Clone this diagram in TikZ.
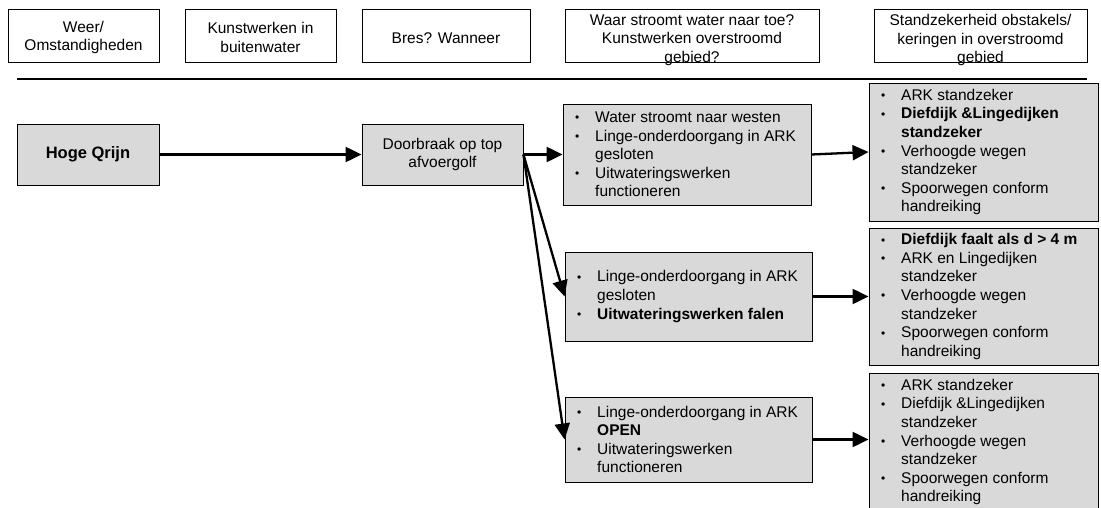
\documentclass[tikz,border=0pt]{standalone}
\usepackage{fontspec}
\setmainfont{Liberation Sans}
\usetikzlibrary{arrows.meta}
\definecolor{boxgray}{HTML}{D9D9D9}
\newcommand{\bu}{\makebox[20pt][l]{\raisebox{0.6pt}{\fontsize{12}{12}\selectfont\textbullet}}}
\newcommand{\bc}{\hspace*{20pt}}
\begin{document}
\begin{tikzpicture}[x=1pt,y=-1pt,
  hdr/.style={draw=black, line width=0.9pt, fill=white, inner sep=0pt},
  gbox/.style={draw=black, line width=0.9pt, fill=boxgray, inner sep=0pt},
  txt/.style={inner sep=0pt, align=center, font=\fontsize{15.5}{18.6}\selectfont},
  btxt/.style={inner sep=0pt, align=left, anchor=west, font=\fontsize{15.5}{18.6}\selectfont},
  arr/.style={line width=2.3pt, -{Triangle[length=16pt,width=15pt]}}]
\useasboundingbox (0,0) rectangle (1101,508);
\clip (0,0) rectangle (1101,508);
% header
\node[hdr, minimum width=151pt, minimum height=53pt] (h1) at (83.5,35.5) {};
\node[hdr, minimum width=151pt, minimum height=53pt] (h2) at (260.5,35.5) {};
\node[hdr, minimum width=168pt, minimum height=53pt] (h3) at (446,35.5) {};
\node[hdr, minimum width=254pt, minimum height=53pt] (h4) at (692,35.5) {};
\node[hdr, minimum width=213pt, minimum height=53pt] (h5) at (980.5,35.5) {};
\node[txt] (h1t) at (83.5,37.5) {Weer/\\Omstandigheden};
\node[txt] (h2t) at (260.5,37.5) {Kunstwerken in\\buitenwater};
\node[txt] (h3t) at (446,38.5) {Bres? Wanneer};
\node[txt] (h4t) at (692,40) {Waar stroomt water naar toe?\\Kunstwerken overstroomd\\gebied?};
\node[txt] (h5t) at (980.5,40) {Standzekerheid obstakels/\\keringen in overstroomd\\gebied};
\coordinate (l1) at (17,79);
\coordinate (l2) at (1087,79);
\draw[line width=1.3pt] (l1) -- (l2);
% main boxes
\node[gbox, minimum width=142pt, minimum height=61pt, font=\bfseries\fontsize{16.5}{19}\selectfont] (Q) at (88,154.5) {Hoge Qrijn};
\node[gbox, minimum width=161pt, minimum height=61pt] (D) at (442.5,154.5) {};
\node[txt] (Dt) at (442.5,154.5) {Doorbraak op top\\afvoergolf};
\node[gbox, minimum width=248pt, minimum height=101pt] (A) at (687,154.5) {};
\node[gbox, minimum width=247pt, minimum height=89pt] (B) at (688.5,296.5) {};
\node[gbox, minimum width=247pt, minimum height=85pt] (C) at (688.5,439.5) {};
\node[gbox, minimum width=229pt, minimum height=138pt] (R1) at (983.5,152) {};
\node[gbox, minimum width=229pt, minimum height=137pt] (R2) at (983.5,296.5) {};
\node[gbox, minimum width=229pt, minimum height=138pt] (R3) at (983.5,442) {};
% texts
\node[btxt] (At) at (575,154.5) {\bu Water stroomt naar westen\\\bu Linge-onderdoorgang in ARK\\\bc gesloten\\\bu Uitwateringswerken\\\bc functioneren};
\node[btxt] (Bt) at (577,296.5) {\bu Linge-onderdoorgang in ARK\\\bc gesloten\\\bu \textbf{Uitwateringswerken falen}};
\node[btxt] (Ct) at (577,439.5) {\bu Linge-onderdoorgang in ARK\\\bc \textbf{OPEN}\\\bu Uitwateringswerken\\\bc functioneren};
\node[btxt] (R1t) at (881,152) {\bu ARK standzeker\\\bu \textbf{Diefdijk \&Lingedijken}\\\bc \textbf{standzeker}\\\bu Verhoogde wegen\\\bc standzeker\\\bu Spoorwegen conform\\\bc handreiking};
\node[btxt] (R2t) at (881,296.5) {\bu \textbf{Diefdijk faalt als d > 4 m}\\\bu ARK en Lingedijken\\\bc standzeker\\\bu Verhoogde wegen\\\bc standzeker\\\bu Spoorwegen conform\\\bc handreiking};
\node[btxt] (R3t) at (881,442) {\bu ARK standzeker\\\bu Diefdijk \&Lingedijken\\\bc standzeker\\\bu Verhoogde wegen\\\bc standzeker\\\bu Spoorwegen conform\\\bc handreiking};
% arrows
\draw[arr] (Q.east) -- (D.west);
\draw[arr] (D.east) -- (A.west);
\draw[arr] (D.east) -- (B.west);
\draw[arr] (D.east) -- (C.west);
\draw[arr] (A.east) -- (R1.west);
\draw[arr] (B.east) -- (R2.west);
\draw[arr] (C.east) -- (C.east -| R3.west);
\end{tikzpicture}
\end{document}
